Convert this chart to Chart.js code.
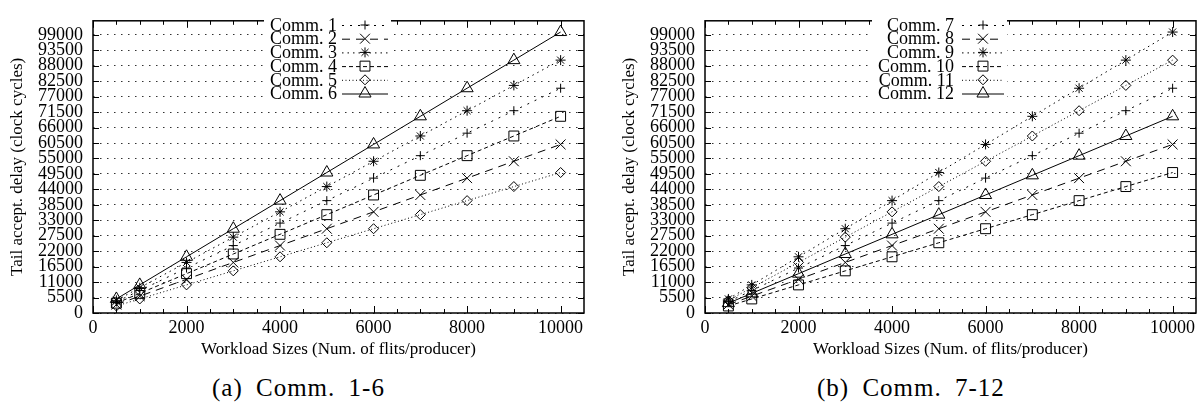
<!DOCTYPE html>
<html lang="en">
<head>
<meta charset="UTF-8">
<title>Tail acceptance delay vs workload size</title>
<script src="https://cdn.jsdelivr.net/npm/chart.js@4.4.0/dist/chart.umd.min.js"></script>
<style>
  body { margin: 0; background: #fff; width: 1204px; height: 408px; position: relative; overflow: hidden; }
  .box { position: absolute; top: 0; height: 365px; }
  .cap { position: absolute; top: 374px; font-family: "Liberation Serif", serif; font-size: 25px;
         letter-spacing: 1px; word-spacing: 6px; white-space: nowrap; color: #000; }
</style>
</head>
<body>
<div class="box" style="left:0;width:602px"><canvas id="chartA"></canvas></div>
<div class="box" style="left:612px;width:592px"><canvas id="chartB"></canvas></div>
<div class="cap" style="left:212px">(a) Comm. 1-6</div>
<div class="cap" style="left:817px">(b) Comm. 7-12</div>

<script>
// workload sizes (flits per producer)
const workload = [500, 1000, 2000, 3000, 4000, 5000, 6000, 7000, 8000, 9000, 10000];

// (a) Comm. 1-6
const comm1 = [4000, 8000, 16000, 24000, 32000, 40000, 48000, 56000, 64000, 72000, 80000];
const comm2 = [3000, 6000, 12000, 18000, 24000, 30000, 36000, 42000, 48000, 54000, 60000];
const comm3 = [4500, 9000, 18000, 27000, 36000, 45000, 54000, 63000, 72000, 81000, 90000];
const comm4 = [3500, 7000, 14000, 21000, 28000, 35000, 42000, 49000, 56000, 63000, 70000];
const comm5 = [2500, 5000, 10000, 15000, 20000, 25000, 30000, 35000, 40000, 45000, 50000];
const comm6 = [5000, 10000, 20000, 30000, 40000, 50000, 60000, 70000, 80000, 90000, 100000];

// (b) Comm. 7-12
const comm7  = [4000, 8000, 16000, 24000, 32000, 40000, 48000, 56000, 64000, 72000, 80000];
const comm8  = [3000, 6000, 12000, 18000, 24000, 30000, 36000, 42000, 48000, 54000, 60000];
const comm9  = [5000, 10000, 20000, 30000, 40000, 50000, 60000, 70000, 80000, 90000, 100000];
const comm10 = [2500, 5000, 10000, 15000, 20000, 25000, 30000, 35000, 40000, 45000, 50000];
const comm11 = [4500, 9000, 18000, 27000, 36000, 45000, 54000, 63000, 72000, 81000, 90000];
const comm12 = [3500, 7000, 14000, 21000, 28000, 35000, 42000, 49000, 56000, 63000, 70000];

const yTicks = [0, 5500, 11000, 16500, 22000, 27500, 33000, 38500, 44000, 49500,
                55000, 60500, 66000, 71500, 77000, 82500, 88000, 93500, 99000];
const xTicks = [0, 2000, 4000, 6000, 8000, 10000];
const xMinorTicks = [0, 500, 1000, 1500, 2000, 2500, 3000, 3500, 4000, 4500, 5000,
                     5500, 6000, 6500, 7000, 7500, 8000, 8500, 9000, 9500, 10000];

// gnuplot-ish line/point types, one per key row
const styles = [
  { point: 'cross',    r: 4.5, dash: [2, 6] },
  { point: 'crossRot', r: 7,   dash: [8, 6] },
  { point: 'star',     r: 5,   dash: [1.5, 4] },
  { point: 'rect',     r: 7,   dash: [4, 3] },
  { point: 'rectRot',  r: 5,   dash: [1, 2.5] },
  { point: 'triangle', r: 7,   dash: [] }
];

const FONT = 'Liberation Serif';
const TICK_SIZE = 18;
const TITLE_SIZE = 17;

function series(label, values, st) {
  return {
    label: label,
    data: workload.map((w, i) => ({ x: w, y: values[i] })),
    borderColor: '#000',
    backgroundColor: 'rgba(0,0,0,0)',
    borderWidth: 1,
    borderDash: st.dash,
    pointStyle: st.point,
    pointRadius: st.r,
    pointBorderWidth: 1,
    pointBorderColor: '#000',
    pointBackgroundColor: 'rgba(0,0,0,0)',
    tension: 0,
    fill: false
  };
}

// border + inward tics on all four sides
const gnuFrame = {
  id: 'gnuFrame',
  afterDraw(chart) {
    const { ctx, chartArea: a, scales: { x, y } } = chart;
    ctx.save();
    ctx.strokeStyle = '#000';
    ctx.lineWidth = 1;
    ctx.beginPath();
    xMinorTicks.forEach(v => {
      const px = Math.round(x.getPixelForValue(v)) + 0.5;
      const len = xTicks.includes(v) ? 7 : 4;
      ctx.moveTo(px, a.bottom); ctx.lineTo(px, a.bottom - len);
      ctx.moveTo(px, a.top); ctx.lineTo(px, a.top + len);
    });
    yTicks.forEach(v => {
      const py = Math.round(y.getPixelForValue(v)) + 0.5;
      ctx.moveTo(a.left, py); ctx.lineTo(a.left + 6, py);
      ctx.moveTo(a.right, py); ctx.lineTo(a.right - 6, py);
    });
    ctx.stroke();
    ctx.lineWidth = 1.5;
    ctx.strokeRect(a.left, a.top, a.right - a.left, a.bottom - a.top);
    ctx.restore();
  }
};

// key: right-aligned text, then a line sample with the point in the middle
const gnuKey = {
  id: 'gnuKey',
  afterDraw(chart, args, o) {
    const ctx = chart.ctx;
    const sets = chart.data.datasets;
    ctx.save();
    ctx.fillStyle = '#fff';
    ctx.fillRect(o.boxLeft, o.top - 7, o.sampleEnd + 3 - o.boxLeft, sets.length * o.step);
    ctx.font = TICK_SIZE + 'px "' + FONT + '"';
    ctx.textAlign = 'right';
    ctx.textBaseline = 'middle';
    sets.forEach((ds, i) => {
      const yy = o.top + i * o.step;
      ctx.fillStyle = '#000';
      ctx.fillText(ds.label, o.textRight, yy + 1);
      ctx.strokeStyle = '#000';
      ctx.lineWidth = 1;
      ctx.setLineDash(ds.borderDash);
      ctx.beginPath();
      ctx.moveTo(o.sampleStart, yy + 0.5);
      ctx.lineTo(o.sampleEnd, yy + 0.5);
      ctx.stroke();
      ctx.setLineDash([]);
      ctx.fillStyle = 'rgba(0,0,0,0)';
      Chart.helpers.drawPoint(ctx, { pointStyle: ds.pointStyle, radius: ds.pointRadius, rotation: 0, borderWidth: 1 },
        (o.sampleStart + o.sampleEnd) / 2, yy);
    });
    ctx.restore();
  }
};

function makeChart(id, datasets, key, padRight) {
  return new Chart(document.getElementById(id), {
    type: 'line',
    data: { datasets: datasets },
    plugins: [gnuFrame, gnuKey],
    options: {
      responsive: true,
      maintainAspectRatio: false,
      animation: false,
      layout: { padding: { top: 11, right: padRight, left: 0, bottom: 0 } },
      plugins: {
        legend: { display: false },
        tooltip: { enabled: false },
        gnuKey: key
      },
      scales: {
        x: {
          type: 'linear', min: 0, max: 10500,
          afterBuildTicks: s => { s.ticks = xTicks.map(v => ({ value: v })); },
          afterFit: s => { s.height = 52; },
          grid: { display: false, drawTicks: false },
          border: { display: false },
          ticks: { padding: 4, maxRotation: 0, autoSkip: false, color: '#000',
                   font: { family: FONT, size: TICK_SIZE }, callback: v => String(v) },
          title: { display: true, text: 'Workload Sizes (Num. of flits/producer)', color: '#000',
                   font: { family: FONT, size: TITLE_SIZE }, padding: { top: 0, bottom: 5 } }
        },
        y: {
          type: 'linear', min: 0, max: 104000,
          afterBuildTicks: s => { s.ticks = yTicks.map(v => ({ value: v })); },
          afterFit: s => { s.width = 93; },
          grid: { color: '#333', lineWidth: 1, drawTicks: false },
          border: { display: false, dash: [1.5, 5.5] },
          ticks: { padding: 10, autoSkip: false, color: '#000',
                   font: { family: FONT, size: TICK_SIZE }, callback: v => String(v) },
          title: { display: true, text: 'Tail accept. delay (clock cycles)', color: '#000',
                   font: { family: FONT, size: TITLE_SIZE }, padding: { top: 7, bottom: 0 } }
        }
      }
    }
  });
}

makeChart('chartA', [
  series('Comm. 1', comm1, styles[0]),
  series('Comm. 2', comm2, styles[1]),
  series('Comm. 3', comm3, styles[2]),
  series('Comm. 4', comm4, styles[3]),
  series('Comm. 5', comm5, styles[4]),
  series('Comm. 6', comm6, styles[5])
], { boxLeft: 264, textRight: 337, sampleStart: 342, sampleEnd: 388, top: 25, step: 13.7 }, 18);

makeChart('chartB', [
  series('Comm. 7', comm7, styles[0]),
  series('Comm. 8', comm8, styles[1]),
  series('Comm. 9', comm9, styles[2]),
  series('Comm. 10', comm10, styles[3]),
  series('Comm. 11', comm11, styles[4]),
  series('Comm. 12', comm12, styles[5])
], { boxLeft: 260, textRight: 342, sampleStart: 350, sampleEnd: 392, top: 25, step: 13.7 }, 8);
</script>
</body>
</html>
